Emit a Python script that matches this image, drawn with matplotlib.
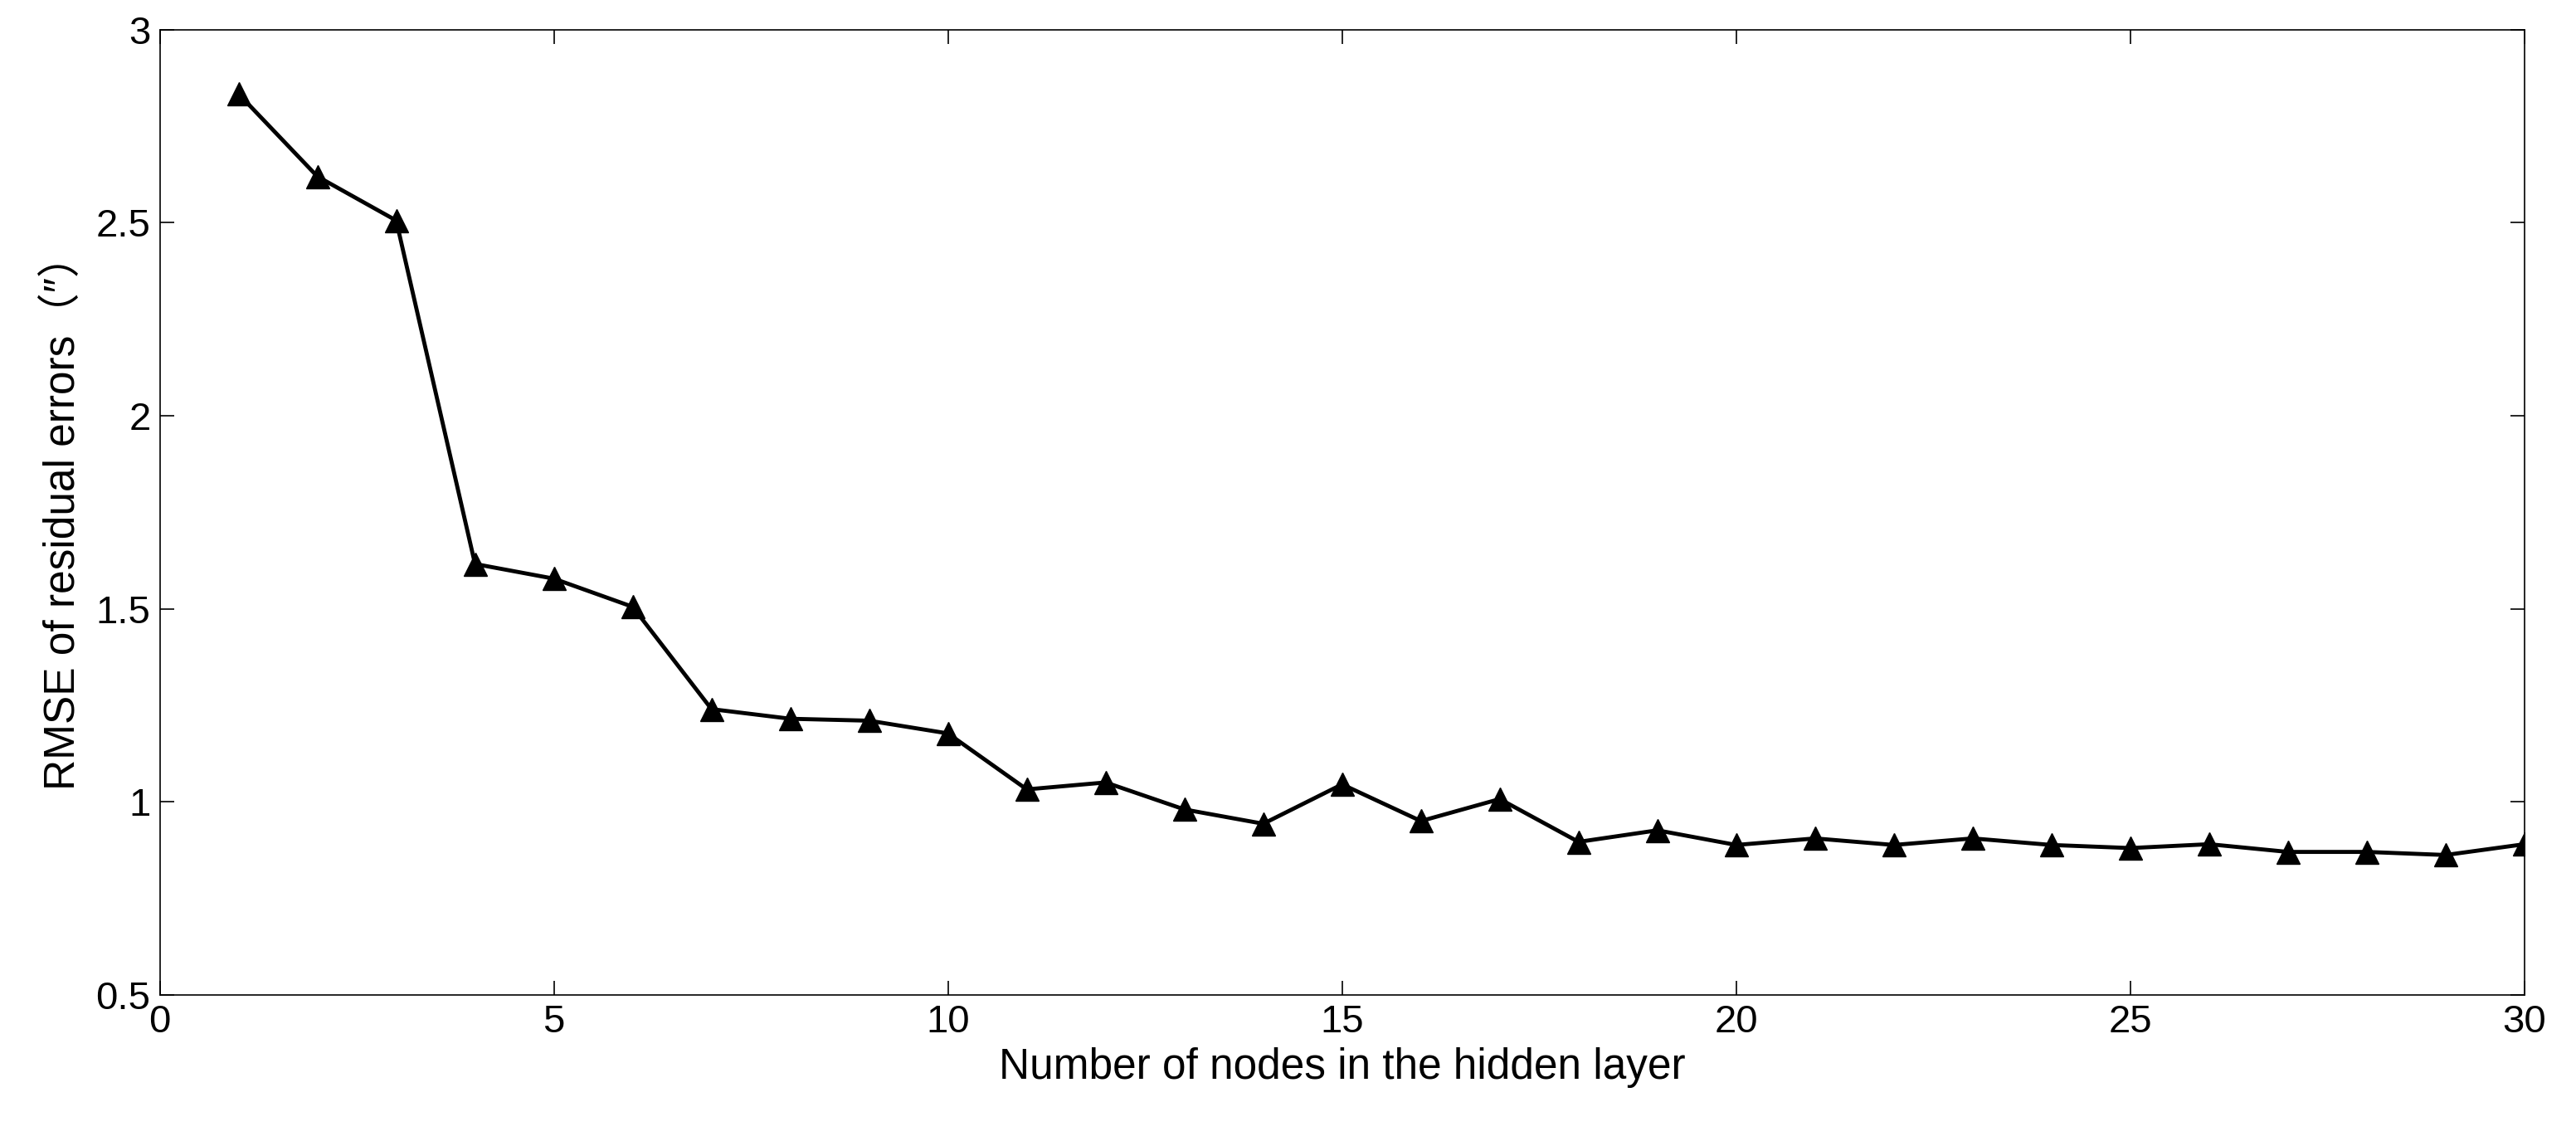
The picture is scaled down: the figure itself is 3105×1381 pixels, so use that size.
import matplotlib
matplotlib.use("Agg")
import matplotlib.pyplot as plt

nodes = list(range(1, 31))
rmse = [2.834, 2.62, 2.506, 1.616, 1.578, 1.505, 1.24, 1.215, 1.21, 1.177,
        1.032, 1.05, 0.98, 0.943, 1.045, 0.95, 1.007, 0.896, 0.926, 0.888,
        0.905, 0.888, 0.905, 0.888, 0.88, 0.89, 0.87, 0.87, 0.862, 0.89]

plt.rcParams['font.family'] = ['Liberation Sans', 'Noto Sans CJK SC', 'DejaVu Sans']
fig = plt.figure(figsize=(31.05, 13.81), dpi=100)
ax = fig.add_axes([0.062, 0.132, 0.918, 0.842])
ax.plot(nodes, rmse, color='black', lw=3.5, marker='^', markersize=20)
ax.set_xlim(0, 30)
ax.set_ylim(0.5, 3)
ax.set_xticks([0, 5, 10, 15, 20, 25, 30])
ax.set_yticks([0.5, 1, 1.5, 2, 2.5, 3])
ax.set_yticklabels(['0.5', '1', '1.5', '2', '2.5', '3'])
ax.tick_params(direction='in', top=True, right=True, labelsize=34, length=12, width=1.2, pad=8)
for s in ax.spines.values():
    s.set_linewidth(1.2)
ax.set_xlabel('Number of nodes in the hidden layer', fontsize=37, labelpad=6)
ax.set_ylabel('RMSE of residual errors（″）', fontsize=37, labelpad=10)
fig.savefig('out.png', dpi=100)
